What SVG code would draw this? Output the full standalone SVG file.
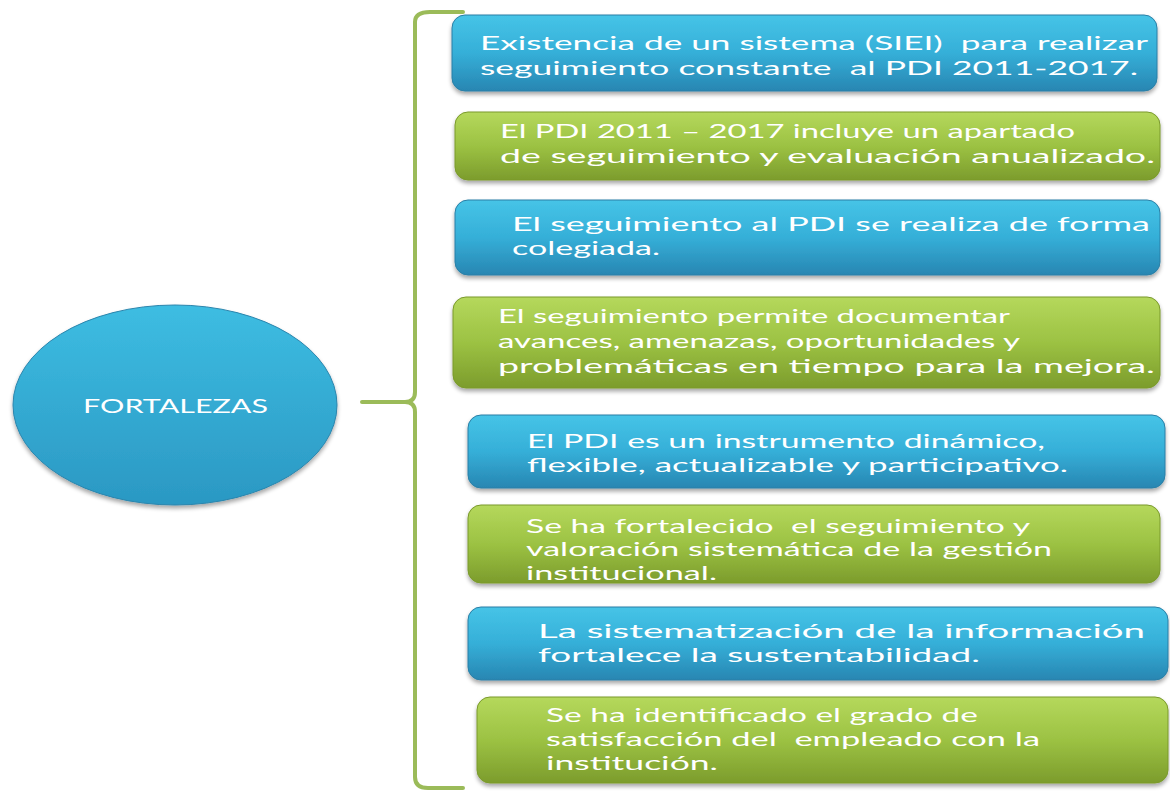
<svg xmlns="http://www.w3.org/2000/svg" width="1170" height="791" viewBox="0 0 1170 791">
<defs>
<linearGradient id="gBlue" x1="0" y1="0" x2="0" y2="1">
<stop offset="0" stop-color="#46c4e7"/>
<stop offset="0.5" stop-color="#35afd8"/>
<stop offset="1" stop-color="#2886b2"/>
</linearGradient>
<linearGradient id="gGreen" x1="0" y1="0" x2="0" y2="1">
<stop offset="0" stop-color="#b5d85c"/>
<stop offset="0.5" stop-color="#9cc243"/>
<stop offset="1" stop-color="#7c9c2c"/>
</linearGradient>
<linearGradient id="gCircle" x1="0" y1="0" x2="0" y2="1">
<stop offset="0" stop-color="#3dbde2"/>
<stop offset="1" stop-color="#2b98c3"/>
</linearGradient>
<filter id="sh" x="-5%" y="-20%" width="110%" height="150%">
<feGaussianBlur in="SourceAlpha" stdDeviation="2"/>
<feOffset dx="0" dy="3" result="b"/>
<feComponentTransfer><feFuncA type="linear" slope="0.35"/></feComponentTransfer>
<feMerge><feMergeNode/><feMergeNode in="SourceGraphic"/></feMerge>
</filter>
</defs>
<style>
.blue{fill:url(#gBlue);stroke:#2a7fa6;stroke-width:1;filter:url(#sh)}
.green{fill:url(#gGreen);stroke:#7a9a2c;stroke-width:1;filter:url(#sh)}
.t{font-family:Lato,"Open Sans","Liberation Sans",sans-serif;font-size:20px;fill:#ffffff;white-space:pre}
.br{fill:none;stroke:#9bbb59;stroke-width:4;stroke-linecap:round;stroke-linejoin:round}
</style>
<rect width="1170" height="791" fill="#ffffff"/>

<g id="connectors">
<path class="br" d="M463,12 L430,12 Q415,12 415,22 L415,392 Q415,402 405,402 L362,402 M405,402 Q415,402 415,412 L415,777 Q415,788 428,788 L463,788"/>
</g>

<g id="fortalezas">
<ellipse cx="175" cy="405" rx="162" ry="100" fill="url(#gCircle)" stroke="#2a85ad" stroke-width="1" filter="url(#sh)"/>
<text class="t" x="83" y="413" font-size="17" textLength="185" lengthAdjust="spacingAndGlyphs">FORTALEZAS</text>
</g>

<g id="n1">
<rect class="blue" x="452" y="15" width="705" height="76" rx="13"/>
<text class="t" x="480" y="50" textLength="668" lengthAdjust="spacingAndGlyphs">Existencia de un sistema (SIEI)  para realizar</text>
<text class="t" x="480" y="75" textLength="658" lengthAdjust="spacingAndGlyphs">seguimiento constante  al PDI 2011-2017.</text>
</g>

<g id="n2">
<rect class="green" x="455" y="112" width="705" height="68" rx="13"/>
<text class="t" x="500" y="138" textLength="575" lengthAdjust="spacingAndGlyphs">El PDI 2011 – 2017 incluye un apartado</text>
<text class="t" x="500" y="163" textLength="655" lengthAdjust="spacingAndGlyphs">de seguimiento y evaluación anualizado.</text>
</g>

<g id="n3">
<rect class="blue" x="455" y="200" width="705" height="75" rx="13"/>
<text class="t" x="512" y="231" textLength="638" lengthAdjust="spacingAndGlyphs">El seguimiento al PDI se realiza de forma</text>
<text class="t" x="512" y="255" textLength="148" lengthAdjust="spacingAndGlyphs">colegiada.</text>
</g>

<g id="n4">
<rect class="green" x="453" y="297" width="707" height="91" rx="13"/>
<text class="t" x="498" y="323" textLength="512" lengthAdjust="spacingAndGlyphs">El seguimiento permite documentar</text>
<text class="t" x="498" y="348" textLength="522" lengthAdjust="spacingAndGlyphs">avances, amenazas, oportunidades y</text>
<text class="t" x="498" y="373" textLength="657" lengthAdjust="spacingAndGlyphs">problemáticas en tiempo para la mejora.</text>
</g>

<g id="n5">
<rect class="blue" x="468" y="415" width="697" height="73" rx="13"/>
<text class="t" x="527" y="448" textLength="518" lengthAdjust="spacingAndGlyphs">El PDI es un instrumento dinámico,</text>
<text class="t" x="527" y="472" textLength="541" lengthAdjust="spacingAndGlyphs">flexible, actualizable y participativo.</text>
</g>

<g id="n6">
<rect class="green" x="468" y="505" width="692" height="78" rx="13"/>
<text class="t" x="526" y="533" textLength="504" lengthAdjust="spacingAndGlyphs">Se ha fortalecido  el seguimiento y</text>
<text class="t" x="526" y="556" textLength="526" lengthAdjust="spacingAndGlyphs">valoración sistemática de la gestión</text>
<text class="t" x="526" y="580" textLength="191" lengthAdjust="spacingAndGlyphs">institucional.</text>
</g>

<g id="n7">
<rect class="blue" x="468" y="607" width="700" height="73" rx="13"/>
<text class="t" x="538" y="638" textLength="607" lengthAdjust="spacingAndGlyphs">La sistematización de la información</text>
<text class="t" x="538" y="662" textLength="442" lengthAdjust="spacingAndGlyphs">fortalece la sustentabilidad.</text>
</g>

<g id="n8">
<rect class="green" x="477" y="697" width="691" height="86" rx="13"/>
<text class="t" x="546" y="722" textLength="432" lengthAdjust="spacingAndGlyphs">Se ha identificado el grado de</text>
<text class="t" x="546" y="746" textLength="494" lengthAdjust="spacingAndGlyphs">satisfacción del  empleado con la</text>
<text class="t" x="546" y="770" textLength="172" lengthAdjust="spacingAndGlyphs">institución.</text>
</g>
</svg>
